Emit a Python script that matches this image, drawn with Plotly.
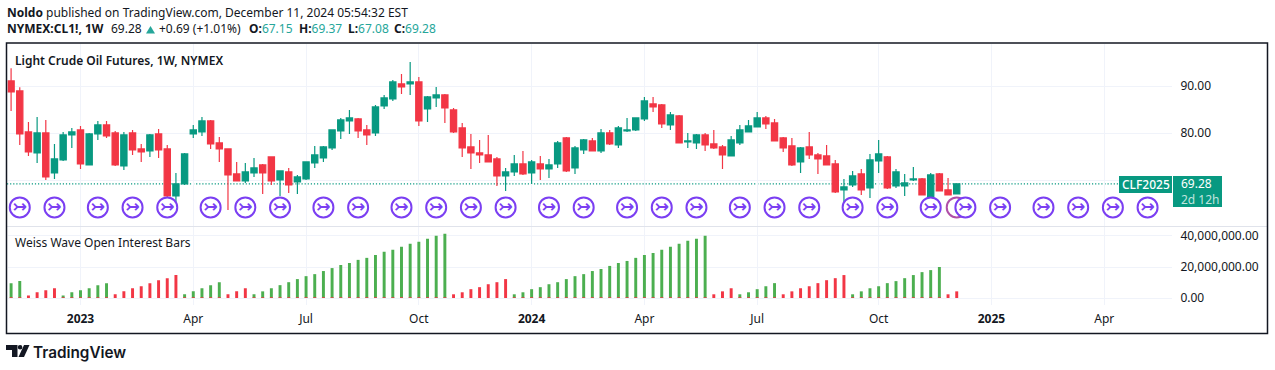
import pandas as pd
import plotly.graph_objects as go

START = "2022-11-07"
opens = [91.08,88.97,80.28,75.83,80.07,71.60,74.35,79.65,80.71,73.29,79.86,81.77,80.07,73.08,80.07,76.68,76.26,79.86,76.68,66.73,
         69.27,79.86,80.28,82.61,77.95,76.68,71.39,69.90,71.60,73.29,74.99,70.12,71.81,69.69,70.33,73.72,74.78,76.89,80.49,82.61,
         83.04,80.71,80.07,85.79,87.27,90.45,90.45,90.87,85.15,87.48,88.12,84.94,81.13,77.11,75.83,75.41,74.56,70.96,71.81,73.50,
         71.60,73.50,72.45,73.50,79.01,72.66,76.47,78.38,76.26,80.07,77.53,80.49,80.71,83.04,86.21,86.00,81.77,83.67,78.16,77.95,
         79.65,77.74,77.11,75.20,77.95,80.28,81.34,83.25,82.19,79.01,77.32,73.93,77.11,75.41,75.20,73.50,68.00,69.06,71.39,68.42,
         74.14,74.99,68.85,68.85,70.12,70.33,66.52,71.39,68.00,67.15]
highs = [93.77,89.74,82.40,83.46,82.82,77.74,80.28,81.13,81.55,80.07,82.61,82.61,80.49,80.28,80.71,77.74,79.86,80.92,77.53,71.60,
         75.83,81.77,83.46,82.82,79.22,76.68,73.93,73.72,74.78,73.50,74.99,72.02,72.66,71.18,73.93,77.32,77.32,80.71,83.25,84.94,
         83.25,81.77,86.00,88.12,91.30,92.57,95.11,91.93,87.91,89.81,88.33,85.37,82.19,79.86,78.59,79.65,74.99,72.66,75.41,76.26,
         74.35,75.20,74.56,78.38,79.22,77.32,78.80,79.01,80.92,80.71,81.55,83.25,83.25,87.70,87.70,86.21,84.52,83.88,80.07,79.86,
         80.07,80.71,77.53,79.44,81.77,82.82,84.52,83.67,83.04,79.22,79.01,77.11,80.28,75.83,77.53,74.35,70.33,72.02,72.45,75.62,
         78.59,75.20,72.45,71.39,72.87,70.54,71.60,71.60,70.54,69.37]
lows = [84.73,77.53,75.20,73.72,70.12,70.33,74.14,76.89,72.45,73.29,78.59,79.01,73.08,72.23,75.41,73.93,74.99,74.78,65.46,64.61,
        69.06,79.01,79.44,76.68,73.93,63.76,69.90,69.48,70.75,67.15,69.06,66.73,67.36,67.15,70.12,72.66,73.93,76.47,78.80,79.86,
        79.01,77.53,79.44,85.15,86.85,88.33,88.12,81.55,82.40,85.58,82.19,80.07,74.99,72.45,73.72,73.93,68.85,67.79,70.96,71.18,
        69.27,70.12,70.54,72.66,71.81,71.39,75.62,76.26,75.83,77.53,76.89,80.28,80.49,82.61,84.52,81.13,80.71,77.95,76.89,76.68,
        76.26,76.68,72.45,75.20,77.53,80.28,81.34,80.92,78.38,76.05,73.08,71.60,74.56,71.39,73.29,67.36,65.24,68.63,66.94,66.30,
        71.60,68.21,68.42,66.73,69.90,66.94,66.52,67.79,66.94,67.08]
closes = [88.75,79.86,76.05,80.07,70.75,74.56,79.65,80.28,73.50,79.86,81.77,79.44,73.29,79.65,76.47,76.05,79.65,76.47,66.73,69.27,
          75.62,80.71,82.61,77.74,76.68,71.18,69.90,71.81,72.66,71.60,69.90,72.02,69.06,70.75,73.93,75.41,77.11,80.71,82.82,83.25,
          80.49,79.65,85.58,87.48,90.87,89.81,90.87,82.61,87.70,88.12,85.37,80.28,76.89,75.83,75.41,73.93,70.96,71.81,73.50,71.39,
          73.93,72.45,73.29,77.95,72.02,76.89,78.59,76.26,80.07,77.74,81.13,80.71,83.25,86.85,85.58,81.98,83.88,77.95,78.38,79.65,
          77.53,76.89,75.41,78.59,80.71,81.55,83.25,81.98,78.38,76.89,73.29,76.89,75.41,74.56,73.29,67.57,68.63,70.96,68.00,74.35,
          75.62,68.42,71.81,69.48,70.33,66.94,71.18,67.79,66.94,69.28]

wave_values = [9.6,10.9,1.7,3.7,5.0,6.3,1.7,3.7,5.0,6.3,8.3,9.6,2.4,4.3,6.3,7.6,9.6,11.5,12.8,14.8,
               2.4,4.3,6.3,8.3,10.2,2.4,4.3,6.3,2.4,4.3,6.3,8.3,10.2,12.2,14.1,15.4,17.4,19.3,21.3,22.6,
               24.6,25.9,27.8,29.8,31.1,33.0,35.0,36.3,38.3,40.2,41.5,2.4,3.7,5.7,7.0,8.9,10.2,12.2,2.4,3.7,
               5.7,7.0,8.9,10.2,12.2,14.1,15.4,17.4,18.7,20.7,22.6,23.9,25.9,27.8,29.1,31.1,33.0,35.0,37.0,38.3,
               40.2,2.4,4.3,6.3,2.4,3.7,5.7,7.6,9.6,2.4,4.3,6.3,7.6,9.6,11.5,12.8,14.8,2.4,4.3,6.3,
               7.6,9.6,10.9,12.8,14.8,16.7,18.0,20.0,2.4,4.3]
wave_up = [1,1,0,0,0,0,1,1,1,1,1,1,0,0,0,0,0,0,0,0,
           1,1,1,1,1,0,0,0,1,1,1,1,1,1,1,1,1,1,1,1,
           1,1,1,1,1,1,1,1,1,1,1,0,0,0,0,0,0,0,1,1,
           1,1,1,1,1,1,1,1,1,1,1,1,1,1,1,1,1,1,1,1,
           1,0,0,0,1,1,1,1,1,0,0,0,0,0,0,0,0,1,1,1,
           1,1,1,1,1,1,1,1,0,0]
event_weeks = [1,5,10,14,18,23,27,31,36,40,45,49,53,57,62,66,71,75,79,84,88,92,97,101,106,110,114,119,123,127,131]
pink_event_weeks = [109]
tick_dates = ["2023-01-02","2023-04-03","2023-07-03","2023-10-02","2024-01-01","2024-04-01","2024-07-01","2024-10-07","2025-01-06","2025-04-07"]
tick_labels = ["<b>2023</b>","Apr","Jul","Oct","<b>2024</b>","Apr","Jul","Oct","<b>2025</b>","Apr"]
price_ticks = [70,80,90]
price_labels = ["","80.00","90.00"]
wave_ticks = [0,20e6,40e6]
wave_labels = ["0.00","20,000,000.00","40,000,000.00"]
last_price = 69.28

W, H = 1275, 370
FONT = "Noto Sans"
INK = "#131722"
UP = "#089981"
DOWN = "#F23645"
GRID = "#f0f3fa"
PURPLE = "#7b3ff2"
TEAL = "#26a69a"

fx = lambda p: p / W
fy = lambda p: 1 - p / H

start = pd.Timestamp(START)
week_dates = pd.date_range(START, periods=len(opens), freq="7D")
week_date = lambda w: start + pd.Timedelta(days=7 * w)
xrange_ = [start - pd.Timedelta(days=2.9), start + pd.Timedelta(days=936.7)]

wave_green = [v * 1e6 if u else 0 for v, u in zip(wave_values, wave_up)]
wave_red = [0.5e6 if u else v * 1e6 for v, u in zip(wave_values, wave_up)]

fig = go.Figure()
fig.add_trace(go.Candlestick(
    x=week_dates, open=opens, high=highs, low=lows, close=closes,
    increasing=dict(line=dict(color=UP, width=1.2), fillcolor=UP),
    decreasing=dict(line=dict(color=DOWN, width=1.2), fillcolor=DOWN),
    whiskerwidth=0, xaxis="x", yaxis="y", showlegend=False, hoverinfo="skip"))

# Event badges sit in a fixed band of the price pane
band = 64.3
for weeks, col in ((pink_event_weeks, "#b04fa8"), (event_weeks, PURPLE)):
    xs = [week_date(w) for w in weeks]
    fig.add_trace(go.Scatter(x=xs, y=[band] * len(xs), mode="markers", xaxis="x", yaxis="y",
                             marker=dict(symbol="circle", size=20, color="white", line=dict(color=col, width=2)),
                             showlegend=False, hoverinfo="skip", cliponaxis=False))
xs = [week_date(w) for w in event_weeks]
fig.add_trace(go.Scatter(x=xs, y=[band] * len(xs), mode="text", xaxis="x", yaxis="y",
                         text=["\u21a3"] * len(xs), textposition="middle center",
                         textfont=dict(family="DejaVu Sans", size=17, color=PURPLE, weight=700),
                         showlegend=False, hoverinfo="skip"))

fig.add_trace(go.Bar(x=week_dates, y=wave_green, marker=dict(color="#4CAF50", line=dict(width=0)),
                     xaxis="x2", yaxis="y2", showlegend=False, hoverinfo="skip"))
fig.add_trace(go.Bar(x=week_dates, y=wave_red, marker=dict(color=DOWN, line=dict(width=0)),
                     xaxis="x2", yaxis="y2", showlegend=False, hoverinfo="skip"))

def poly(points):
    return "M " + " L ".join(f"{fx(a)} {fy(b)}" for a, b in points) + " Z"

shapes = [
    dict(type="line", xref="paper", yref="y", x0=fx(7), x1=fx(1119), y0=last_price, y1=last_price,
         line=dict(color=UP, width=1.2, dash="1.2px,1.9px"), layer="below"),
    dict(type="line", xref="paper", yref="paper", x0=fx(7), x1=fx(1267), y0=fy(226.5), y1=fy(226.5),
         line=dict(color="#e0e3eb", width=1), layer="above"),
    dict(type="rect", xref="paper", yref="paper", x0=fx(6.5), x1=fx(1267.5), y0=fy(43), y1=fy(333.5),
         line=dict(color=INK, width=1.5), layer="above"),
    dict(type="rect", xref="paper", yref="paper", x0=fx(1119), x1=fx(1172), y0=fy(176), y1=fy(193),
         fillcolor=UP, line=dict(width=0), layer="above"),
    dict(type="rect", xref="paper", yref="paper", x0=fx(1173), x1=fx(1222), y0=fy(176), y1=fy(207),
         fillcolor=UP, line=dict(width=0), layer="above"),
    dict(type="path", xref="paper", yref="paper", fillcolor=TEAL, line=dict(width=0),
         path=poly([(146, 33.5), (155, 33.5), (150.5, 26)])),
    dict(type="path", xref="paper", yref="paper", fillcolor=INK, line=dict(width=0),
         path=poly([(6, 345), (17.5, 345), (17.5, 357), (12, 357), (12, 350), (6, 350)])),
    dict(type="path", xref="paper", yref="paper", fillcolor=INK, line=dict(width=0),
         path=poly([(24, 345), (29.5, 345), (24, 357), (18.5, 357)])),
    dict(type="circle", xref="paper", yref="paper", x0=fx(17.8), x1=fx(22.4), y0=fy(345), y1=fy(349.6),
         fillcolor=INK, line=dict(width=0)),
]

def note(px, py, text, size=12, color=INK, anchor="left", family=FONT, weight=None):
    f = dict(family=family, size=size, color=color)
    if weight:
        f["weight"] = weight
    return dict(xref="paper", yref="paper", x=fx(px), y=fy(py), text=text, showarrow=False, borderpad=0, borderwidth=0,
                xanchor=anchor, yanchor="middle", font=f, align="left")

def val(label, number):
    return f"<b>{label}</b><span style='color:{TEAL}'>{number}</span>"

annotations = [
    note(6.5, 12.5, "<b>Noldo</b> published on TradingView.com, December 11, 2024 05:54:32 EST"),
    note(6.5, 29, "<b>NYMEX:CL1!, 1W</b>"),
    note(110.5, 29, "69.28"),
    note(159, 29, "+0.69 (+1.01%)"),
    note(249, 29, val("O:", "67.15")),
    note(299, 29, val("H:", "69.37")),
    note(348, 29, val("L:", "67.08")),
    note(394, 29, val("C:", "69.28")),
    note(15, 60.5, "Light Crude Oil Futures, 1W, NYMEX", weight=600),
    note(15, 243, "Weiss Wave Open Interest Bars"),
    note(1145.5, 184.5, "CLF2025", color="white", anchor="center", weight=500),
    note(1181, 191.5, "69.28<br><span style='color:rgba(255,255,255,0.75)'>2d 12h</span>", color="white"),
    note(33, 352, "TradingView", size=15.3, family="Inter", weight=600),
]

axis_x = dict(type="date", range=xrange_, domain=[fx(7.5), fx(1172)], tickmode="array", tickvals=tick_dates,
              showgrid=True, gridcolor=GRID, gridwidth=1, zeroline=False, showline=False)
fig.update_layout(
    width=W, height=H, margin=dict(l=0, r=0, t=0, b=0), paper_bgcolor="white", plot_bgcolor="white",
    barmode="overlay", bargap=0.66, boxgap=0.28, boxgroupgap=0, dragmode=False, showlegend=False,
    font=dict(family=FONT, size=12, color=INK),
    xaxis=dict(axis_x, anchor="y", showticklabels=False, ticks="", rangeslider=dict(visible=False)),
    yaxis=dict(domain=[fy(226.5), fy(44)], range=[60.25, 98.9], side="right", anchor="x", tickmode="array",
               tickvals=price_ticks, ticktext=price_labels, showgrid=True, gridcolor=GRID, zeroline=False,
               ticks="outside", ticklen=5, tickcolor="white", showline=False, tickfont=dict(size=12, color=INK)),
    xaxis2=dict(axis_x, anchor="y2", ticktext=tick_labels, ticks="outside", ticklen=3, tickcolor="white",
                tickfont=dict(size=12, color=INK)),
    yaxis2=dict(domain=[fy(305), fy(227)], range=[-4.5e6, 45.8e6], side="right", anchor="x2", tickmode="array",
                tickvals=wave_ticks, ticktext=wave_labels, showgrid=True, gridcolor=GRID, zeroline=False,
                ticks="outside", ticklen=5, tickcolor="white", showline=False, tickfont=dict(size=12, color=INK)),
    shapes=shapes, annotations=annotations,
)

fig.write_html("out.html", include_plotlyjs=True, default_width=W, default_height=H,
               config=dict(displayModeBar=False, staticPlot=True),
               post_script="document.body.style.margin='0';document.body.style.overflow='hidden';")
